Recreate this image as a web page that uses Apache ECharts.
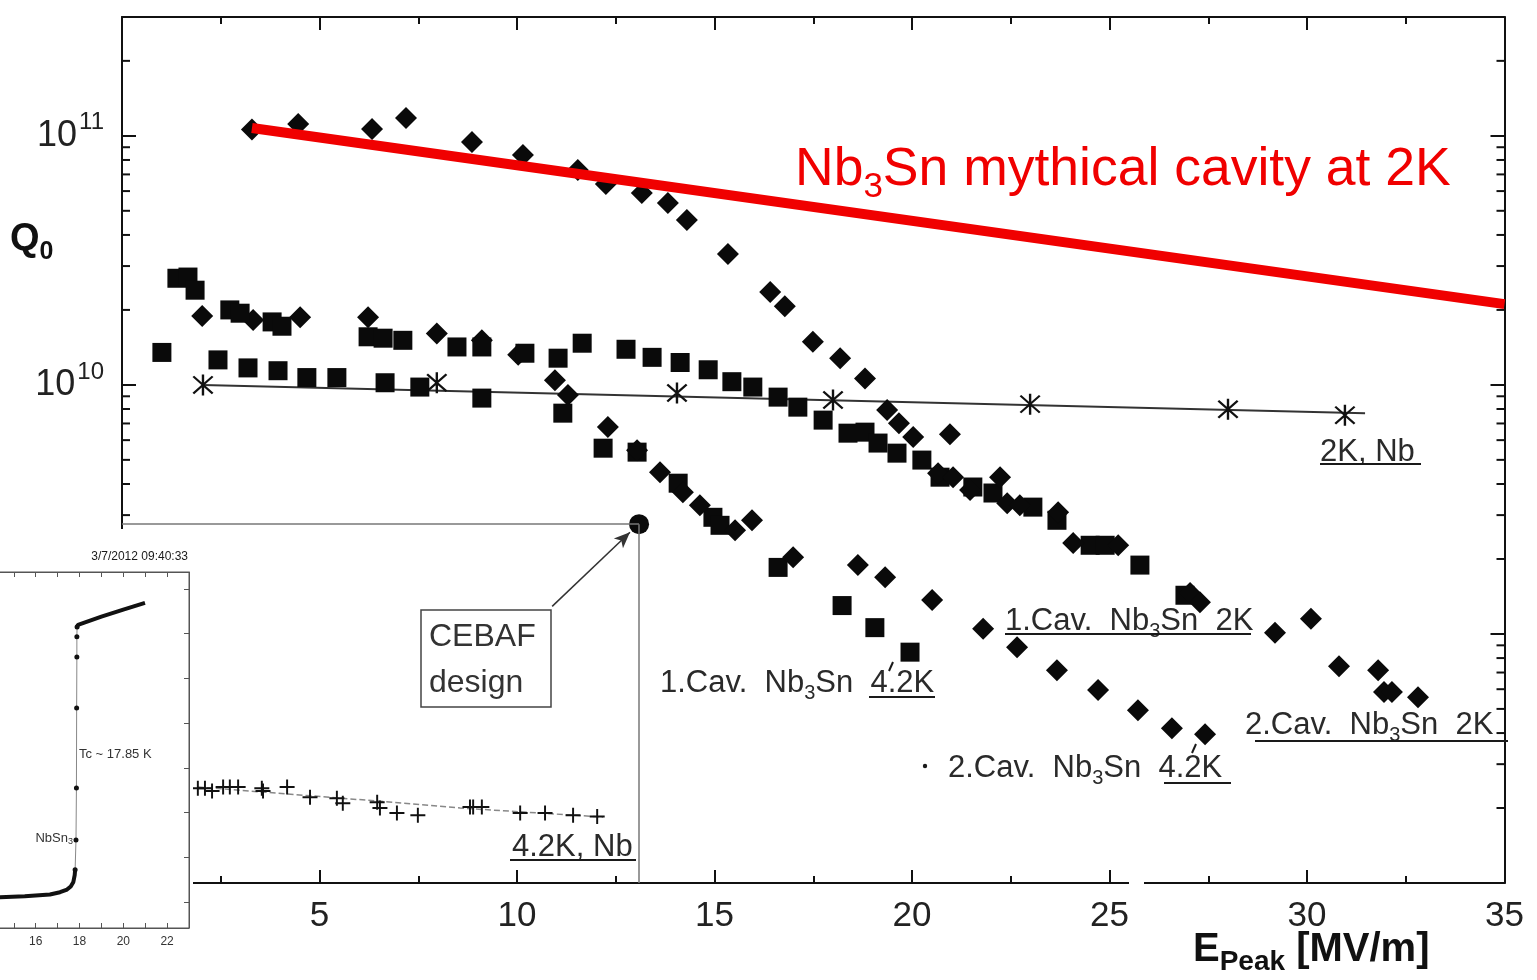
<!DOCTYPE html>
<html>
<head>
<meta charset="utf-8">
<title>Q0 vs E_peak, Nb3Sn cavities</title>
<script src="https://cdn.jsdelivr.net/npm/echarts@6/dist/echarts.min.js"></script>
<style>
  html, body { margin: 0; padding: 0; background: #fff; }
  #main { width: 1537px; height: 980px; }
</style>
</head>
<body>
<div id="main"></div>
<script>
// main chart: [E_peak MV/m, Q0]
var cav1At2K = [[1.39,2.68e10],[1.67,2.71e10],[1.85,2.40e10],[2.73,2.00e10],[2.99,1.94e10],[3.80,1.79e10],[4.05,1.72e10],
  [6.23,1.56e10],[6.61,1.54e10],[7.11,1.51e10],[8.48,1.42e10],[9.11,1.42e10],[10.20,1.34e10],[11.04,1.28e10],[11.65,1.47e10],
  [12.76,1.39e10],[13.42,1.29e10],[14.13,1.23e10],[14.84,1.15e10],[15.44,1.03e10],[15.97,9.8e9],[16.61,8.93e9],[17.11,8.14e9],
  [17.75,7.22e9],[18.38,6.40e9],[18.81,6.46e9],[19.14,5.84e9],[19.62,5.32e9],[20.25,4.99e9],[20.71,4.26e9],[21.54,3.89e9],
  [22.05,3.68e9],[23.06,3.23e9],[23.67,2.86e9],[24.51,2.27e9],[24.89,2.27e9],[25.77,1.89e9],[26.91,1.43e9]];
var cav2At2K = [[3.29,1.06e11],[4.46,1.115e11],[6.33,1.065e11],[7.19,1.18e11],[8.86,9.44e10],[10.15,8.37e10],[11.54,7.29e10],
  [12.25,6.40e10],[13.16,5.89e10],[13.82,5.37e10],[14.30,4.59e10],[15.34,3.35e10],[16.41,2.36e10],[16.78,2.07e10],[17.49,1.49e10],
  [18.18,1.28e10],[18.81,1.06e10],[19.37,7.92e9],[19.67,7.02e9],[20.03,6.17e9],[20.96,6.34e9],[20.66,4.42e9],[21.04,4.26e9],
  [21.47,3.78e9],[22.23,4.26e9],[22.41,3.35e9],[22.73,3.29e9],[23.70,3.08e9],[24.08,2.32e9],[25.22,2.27e9],[27.04,1.46e9],
  [27.29,1.34e9],[29.19,1.01e9],[30.10,1.15e9],[30.81,7.42e8],[31.80,7.15e8],[31.95,5.84e8],[32.15,5.84e8],[32.81,5.57e8]];
var cav1At42K = [[1.01,1.35e10],[2.43,1.26e10],[3.19,1.17e10],[3.95,1.14e10],[4.68,1.07e10],[5.44,1.07e10],[6.66,1.02e10],
  [7.54,9.8e9],[9.11,8.85e9],[11.16,7.70e9],[12.18,5.57e9],[13.04,5.37e9],[14.08,4.03e9],[14.96,2.94e9],[15.14,2.73e9],
  [16.61,1.85e9],[18.23,1.30e9],[19.06,1.06e9],[19.95,8.45e8]];
var cav2At42K = [[2.03,1.89e10],[3.32,1.82e10],[4.51,1.87e10],[6.23,1.87e10],[7.97,1.61e10],[9.11,1.51e10],[10.03,1.32e10],
  [10.96,1.045e10],[11.29,9.10e9],[12.30,6.77e9],[13.04,5.47e9],[13.62,4.46e9],[14.20,3.71e9],[14.63,3.29e9],[15.52,2.61e9],
  [15.95,2.86e9],[16.99,2.03e9],[18.63,1.89e9],[19.32,1.69e9],[20.51,1.37e9],[21.80,1.05e9],[22.66,8.85e8],[23.67,7.15e8],
  [24.71,5.95e8],[25.72,4.94e8],[26.58,4.18e8],[27.42,3.96e8]];
var nbAt2K = [[2.05,1.0e10],[7.97,1.02e10],[14.05,9.27e9],[18.00,8.69e9],[22.99,8.37e9],[28.00,7.99e9],[30.96,7.56e9]];
var nbAt2KFit = [[2.05,1.0e10],[31.47,7.70e9]];
var nbAt42K = [[1.92,2.40e8],[2.10,2.40e8],[2.28,2.34e8],[2.56,2.43e8],[2.73,2.43e8],[2.94,2.43e8],[3.54,2.40e8],[3.57,2.34e8],
  [4.18,2.43e8],[4.76,2.21e8],[5.44,2.19e8],[5.59,2.09e8],[6.46,2.11e8],[6.53,2.00e8],[6.96,1.91e8],[7.49,1.87e8],[8.81,2.02e8],
  [8.89,2.02e8],[9.11,2.02e8],[10.08,1.91e8],[10.71,1.91e8],[11.42,1.87e8],[12.03,1.85e8]];
var nbAt42KFit = [[1.92,2.43e8],[6.20,2.15e8],[8.56,2.00e8],[12.18,1.84e8]];
var mythicalNb3Sn = [[3.29,1.075e11],[35,2.11e10]];
var cebafDesign = [[13.09,2.76e9]];
var cebafArrow = [[10.89,1.29e9],[12.86,2.56e9]];

// y minor ticks (mantissas per decade)
var minorMantissas = [2,3,4,5,6,7,8,9];
var decades = [8,9,10,11];

// inset: resistance vs T (K), arbitrary units
var insetLow = [[13.5,1.08],[14.37,1.11],[15.5,1.13],[16.65,1.17],[17.11,1.22],[17.43,1.28],[17.6,1.35],[17.72,1.45],[17.78,1.6],[17.8,1.72]];
var insetJump = [[17.8,1.72],[17.84,2.39],[17.86,3.55],[17.87,5.34],[17.88,6.48],[17.88,6.93],[17.89,7.15]];
var insetHigh = [[17.89,7.15],[17.93,7.2],[19.0,7.38],[20.0,7.54],[20.99,7.69]];

var FONT = "'Liberation Sans', Arial, Helvetica, sans-serif";
var INK = '#1a1a1a';
var RED = '#f00000';

var PLUS = 'path://M8.7,0H11.3V8.7H20V11.3H11.3V20H8.7V11.3H0V8.7H8.7Z';
var STAR = 'path://M9,0H11V20H9Z M1.2,2.6L2.6,1.2L18.8,17.4L17.4,18.8Z M17.4,1.2L18.8,2.6L2.6,18.8L1.2,17.4Z';

var yMinorTicks = [];
decades.forEach(function (d) {
  minorMantissas.forEach(function (m) {
    var v = m * Math.pow(10, d);
    if (v < 3e11) yMinorTicks.push([0, v]);
  });
});

function rich(size, subSize, color, weight, subAlign) {
  return {
    a: { fontSize: size, fontFamily: FONT, fontWeight: weight || 'normal', fill: color, color: color, lineHeight: Math.round(size * 1.3) },
    s: { fontSize: subSize, fontFamily: FONT, fontWeight: weight || 'normal', fill: color, color: color, verticalAlign: subAlign || 'bottom' }
  };
}
function txt(x, y, text, r, align) {
  return {
    type: 'text', x: x, y: y, z: 20, silent: true,
    style: { text: text, rich: r, align: align || 'left', textAlign: align || 'left', verticalAlign: 'middle', textVerticalAlign: 'middle', fill: INK }
  };
}
function uline(x1, y, x2, w) {
  return { type: 'line', z: 20, silent: true, shape: { x1: x1, y1: y, x2: x2, y2: y }, style: { stroke: INK, lineWidth: w || 2 } };
}
function seg(x1, y1, x2, y2) {
  return { type: 'line', z: 20, silent: true, shape: { x1: x1, y1: y1, x2: x2, y2: y2 }, style: { stroke: INK, lineWidth: 2 } };
}

var lbl = rich(31, 20, '#2a2a2a');
var mainLine = { onZero: false, lineStyle: { color: '#111', width: 2 } };
var insetLine = { onZero: false, lineStyle: { color: '#555', width: 1 } };

var chart = echarts.init(document.getElementById('main'));
chart.setOption({
  animation: false,
  backgroundColor: '#fff',
  grid: [
    { left: 122, top: 17, width: 1382.5, height: 866, containLabel: false, outerBoundsMode: 'none' },
    { left: -30, top: 572, width: 219, height: 356, show: true, backgroundColor: '#fff', borderColor: '#555', borderWidth: 1, z: 5,
      containLabel: false, outerBoundsMode: 'none' }
  ],
  xAxis: [
    { type: 'value', gridIndex: 0, min: 0, max: 35, interval: 5, position: 'bottom', axisLine: mainLine,
      axisTick: { inside: true, length: 13, lineStyle: { color: '#111', width: 2 } },
      minorTick: { show: true, splitNumber: 2, length: 7, lineStyle: { color: '#111', width: 2 } },
      splitLine: { show: false },
      axisLabel: { fontSize: 35, fontFamily: FONT, color: '#222', margin: 16,
        formatter: function (v) { return v === 0 ? '' : String(v); } } },
    { type: 'value', gridIndex: 0, min: 0, max: 35, interval: 5, position: 'top', axisLine: mainLine,
      axisTick: { inside: true, length: 13, lineStyle: { color: '#111', width: 2 } },
      minorTick: { show: true, splitNumber: 2, length: 7, lineStyle: { color: '#111', width: 2 } },
      splitLine: { show: false }, axisLabel: { show: false } },
    { type: 'value', gridIndex: 1, min: 13, max: 23, interval: 1, position: 'bottom', z: 6, axisLine: insetLine,
      axisTick: { inside: true, length: 5, lineStyle: { color: '#555' } },
      splitLine: { show: false },
      axisLabel: { fontSize: 12, fontFamily: FONT, color: '#333', margin: 8, showMaxLabel: false,
        formatter: function (v) { return v % 2 === 0 ? String(v) : ''; } } },
    { type: 'value', gridIndex: 1, min: 13, max: 23, interval: 1, position: 'top', z: 6, axisLine: insetLine,
      axisTick: { inside: true, length: 5, lineStyle: { color: '#555' } },
      splitLine: { show: false }, axisLabel: { show: false } }
  ],
  yAxis: [
    { type: 'log', gridIndex: 0, logBase: 10, min: 1e8, max: 3e11, position: 'left', axisLine: mainLine,
      axisTick: { inside: true, length: 14, lineStyle: { color: '#111', width: 2 } },
      splitLine: { show: false },
      axisLabel: { margin: 18,
        formatter: function (v) {
          var e = Math.log(v) / Math.LN10;
          if (Math.abs(e - 10) < 0.01) return '{b|10}{s|10}';
          if (Math.abs(e - 11) < 0.01) return '{b|10}{s|11}';
          return '';
        },
        rich: {
          b: { fontSize: 36, fontFamily: FONT, color: '#222', lineHeight: 50 },
          s: { fontSize: 24, fontFamily: FONT, color: '#222', verticalAlign: 'top', padding: [0, 0, 0, 2] }
        } } },
    { type: 'log', gridIndex: 0, logBase: 10, min: 1e8, max: 3e11, position: 'right', axisLine: mainLine,
      axisTick: { inside: true, length: 14, lineStyle: { color: '#111', width: 2 } },
      splitLine: { show: false }, axisLabel: { show: false } },
    { type: 'value', gridIndex: 1, min: 0.42, max: 8.38, splitNumber: 8, position: 'right', z: 6, axisLine: insetLine,
      axisTick: { inside: true, length: 5, lineStyle: { color: '#555' } },
      splitLine: { show: false }, axisLabel: { show: false } }
  ],
  series: [
    { name: 'y minor ticks', type: 'custom', xAxisIndex: 0, yAxisIndex: 0, silent: true, clip: false, z: 1,
      data: yMinorTicks,
      renderItem: function (params, api) {
        var l = api.coord([0, api.value(1)]);
        var r = api.coord([35, api.value(1)]);
        return { type: 'group', children: [
          { type: 'line', shape: { x1: l[0], y1: l[1], x2: l[0] + 8, y2: l[1] }, style: { stroke: '#111', lineWidth: 2 } },
          { type: 'line', shape: { x1: r[0], y1: r[1], x2: r[0] - 8, y2: r[1] }, style: { stroke: '#111', lineWidth: 2 } }
        ] };
      } },
    { name: '2K, Nb fit', type: 'line', data: nbAt2KFit, symbol: 'none', silent: true,
      lineStyle: { color: '#333', width: 2 }, z: 2 },
    { name: '4.2K, Nb fit', type: 'line', data: nbAt42KFit, symbol: 'none', silent: true,
      lineStyle: { color: '#888', width: 1.5, type: [6, 3] }, z: 2 },
    { name: '2K, Nb', type: 'scatter', data: nbAt2K, symbol: STAR, symbolSize: 21,
      itemStyle: { color: '#111', opacity: 1 }, z: 3 },
    { name: '4.2K, Nb', type: 'scatter', data: nbAt42K, symbol: PLUS, symbolSize: 15,
      itemStyle: { color: '#111', opacity: 1 }, z: 3 },
    { name: '1.Cav. Nb3Sn 4.2K', type: 'scatter', data: cav1At42K, symbol: 'rect', symbolSize: 19,
      itemStyle: { color: '#0a0a0a', opacity: 1 }, z: 3 },
    { name: '2.Cav. Nb3Sn 4.2K', type: 'scatter', data: cav2At42K, symbol: 'diamond', symbolSize: 22,
      itemStyle: { color: '#0a0a0a', opacity: 1 }, z: 3 },
    { name: '1.Cav. Nb3Sn 2K', type: 'scatter', data: cav1At2K, symbol: 'rect', symbolSize: 19,
      itemStyle: { color: '#0a0a0a', opacity: 1 }, z: 3 },
    { name: '2.Cav. Nb3Sn 2K', type: 'scatter', data: cav2At2K, symbol: 'diamond', symbolSize: 22,
      itemStyle: { color: '#0a0a0a', opacity: 1 }, z: 3 },
    { name: 'CEBAF design', type: 'scatter', data: cebafDesign, symbol: 'circle', symbolSize: 20,
      itemStyle: { color: '#0a0a0a', opacity: 1 }, z: 4,
      markLine: { silent: true, symbol: 'none', label: { show: false }, animation: false,
        lineStyle: { color: '#777', width: 1.5, type: 'solid' },
        emphasis: { disabled: true },
        data: [
          [{ coord: [0, cebafDesign[0][1]] }, { coord: cebafDesign[0] }],
          [{ coord: cebafDesign[0] }, { coord: [cebafDesign[0][0], 1e8] }],
          [{ coord: cebafArrow[0], symbol: 'none' },
           { coord: cebafArrow[1], symbol: 'arrow', symbolSize: [10, 16], lineStyle: { color: '#333', width: 1.5 } }]
        ] } },
    { name: 'Nb3Sn mythical cavity at 2K', type: 'line', data: mythicalNb3Sn, symbol: 'none', silent: true,
      lineStyle: { color: RED, width: 10 }, z: 6 },

    // inset
    { name: 'inset low', type: 'line', xAxisIndex: 2, yAxisIndex: 2, data: insetLow, symbol: 'none',
      lineStyle: { color: '#111', width: 4 }, z: 7 },
    { name: 'inset jump', type: 'line', xAxisIndex: 2, yAxisIndex: 2, data: insetJump, symbol: 'circle', symbolSize: 5,
      showAllSymbol: true, itemStyle: { color: '#111' }, lineStyle: { color: '#888', width: 1 }, z: 7 },
    { name: 'inset high', type: 'line', xAxisIndex: 2, yAxisIndex: 2, data: insetHigh, symbol: 'none',
      lineStyle: { color: '#111', width: 4 }, z: 7 }
  ],
  graphic: [
    // white backing behind the inset
    { type: 'rect', z: 4, silent: true, shape: { x: 0, y: 529, width: 193, height: 451 }, style: { fill: '#fff' } },
    // break in the bottom axis
    { type: 'rect', z: 4, silent: true, shape: { x: 1129, y: 876, width: 15, height: 12 }, style: { fill: '#fff' } },
    txt(188, 557, '3/7/2012 09:40:33', { a: { fontSize: 14, fontFamily: FONT, fill: '#333', color: '#333' } }, 'right'),
    txt(79, 754, '{a|Tc ~ 17.85 K}', { a: { fontSize: 13, fontFamily: FONT, fill: '#333', color: '#333' } }),
    txt(73, 838, '{a|NbSn}{s|3}', rich(13, 9, '#333'), 'right'),

    txt(10, 240, '{a|Q}{s|0}', rich(38, 25, '#111', 'bold')),
    txt(1193, 950, '{a|E}{s|Peak}{a| [MV/m]}', rich(40, 28, '#111', 'bold')),
    txt(795, 170, '{a|Nb}{s|3}{a|Sn mythical cavity at 2K}', rich(53.5, 35, RED)),

    txt(1320, 452, '{a|2K, Nb}', lbl), uline(1320, 464, 1421),
    txt(1005, 621, '{a|1.Cav.  Nb}{s|3}{a|Sn  2K}', lbl), uline(1005, 634, 1251),
    txt(660, 683, '{a|1.Cav.  Nb}{s|3}{a|Sn  4.2K}', lbl), uline(869, 697, 935), seg(893, 662, 889, 671),
    txt(1245, 725, '{a|2.Cav.  Nb}{s|3}{a|Sn  2K}', lbl), uline(1255, 741, 1508),
    { type: 'circle', z: 20, silent: true, shape: { cx: 925, cy: 766, r: 2.2 }, style: { fill: INK } },
    txt(948, 768, '{a|2.Cav.  Nb}{s|3}{a|Sn  4.2K}', lbl), uline(1164, 783, 1231), seg(1196, 744, 1192, 753),
    txt(512, 847, '{a|4.2K, Nb}', lbl), uline(510, 860, 636),

    { type: 'rect', z: 20, silent: true, shape: { x: 421, y: 610, width: 130, height: 97 },
      style: { fill: '#fff', stroke: '#444', lineWidth: 1.5 } },
    txt(429, 637, '{a|CEBAF}', { a: { fontSize: 32, fontFamily: FONT, fill: '#333', color: '#333' } }),
    txt(429, 683, '{a|design}', { a: { fontSize: 32, fontFamily: FONT, fill: '#333', color: '#333' } })
  ]
});
</script>
</body>
</html>
